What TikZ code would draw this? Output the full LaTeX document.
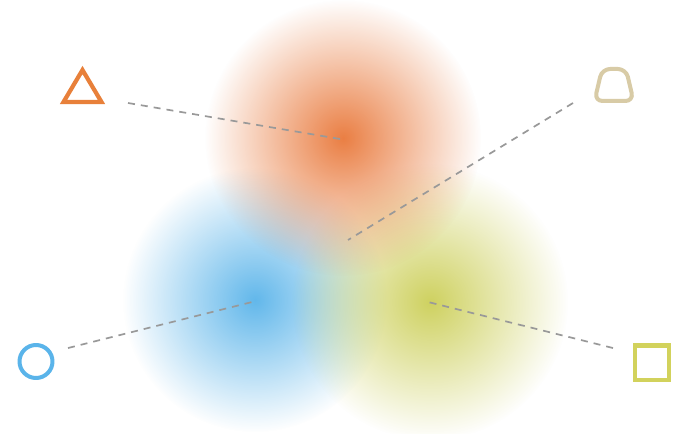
\documentclass[tikz,border=0pt]{standalone}
\usetikzlibrary{fadings}
\definecolor{cOrange}{HTML}{E9783A}
\definecolor{cBlue}{HTML}{5AB4EA}
\definecolor{cGreen}{HTML}{CCCF58}
\definecolor{cBeige}{HTML}{D8CBA6}
\definecolor{cLine}{HTML}{999999}
\definecolor{cTri}{HTML}{E8803A}
\definecolor{cSq}{HTML}{D2D25C}
\tikzfading[name=blobfade, inner color=transparent!5, outer color=transparent!100]
\tikzset{
  blob/.style={fill=#1, path fading=blobfade},
  guide/.style={draw=cLine, line width=1.7pt, dash pattern=on 7pt off 6pt},
  icon/.style={line width=4.2pt, line join=round}
}
\begin{document}
\begin{tikzpicture}[x=1pt,y=-1pt]
\useasboundingbox[fill=white] (0,0) rectangle (676,433);
% blobs
\coordinate (oc) at (343,138);
\coordinate (bc) at (255,300);
\coordinate (gc) at (430,302);
\fill[blob=cBlue] (bc) circle (132);
\fill[blob=cGreen] (gc) circle (138);
\fill[blob=cOrange] (oc) circle (138);
% icons
\draw[icon, draw=cTri, line join=miter] (82.5,70) -- (101.5,102) -- (63.5,102) -- cycle;
\draw[icon, draw=cBeige, line width=4pt, rounded corners=8pt] (602,69) -- (626,69) -- (633.5,101) -- (594.5,101) -- cycle;
\draw[icon, draw=cBlue, line width=4pt] (36,361.5) circle (16.5);
\draw[icon, draw=cSq, line width=4.5pt, line join=miter] (635,345.5) rectangle (669,380);
% guide lines
\coordinate (t1) at (128,103);
\coordinate (t2) at (340,139);
\coordinate (b1) at (573,103);
\coordinate (b2) at (348,240);
\coordinate (c1) at (68,348);
\coordinate (c2) at (256,301);
\coordinate (s1) at (613,348);
\coordinate (s2) at (428,302);
\draw[guide] (t1) -- (t2);
\draw[guide] (b1) -- (b2);
\draw[guide] (c1) -- (c2);
\draw[guide] (s1) -- (s2);
\end{tikzpicture}
\end{document}
